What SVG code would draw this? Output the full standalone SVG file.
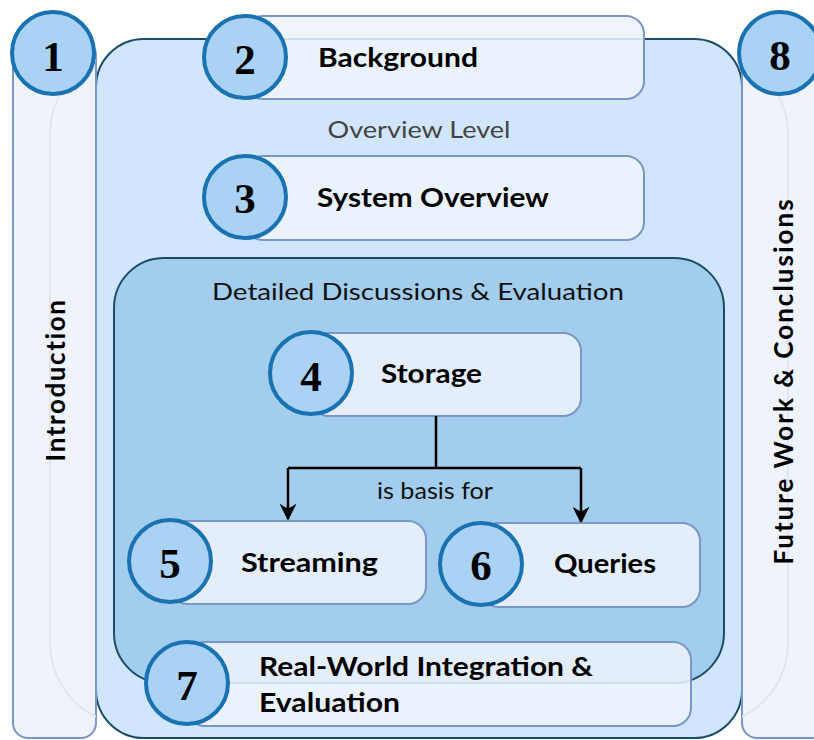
<svg xmlns="http://www.w3.org/2000/svg" width="814" height="740" viewBox="0 0 814 740">
<defs>
<style>
.frame{fill:#d1e6fc;stroke:#1b4d68;stroke-width:2}
.detail{fill:#a2cdec;stroke:#1b4d68;stroke-width:2}
.side{fill:#eef3fc;stroke:#7896c6;stroke-width:2}
.box{fill:#eef3fc;fill-opacity:0.86;stroke:#7896c6;stroke-width:2}
.circ{fill:#aad2f5;stroke:#1a72b0;stroke-width:4}
.num{font-family:"Liberation Serif","DejaVu Serif",serif;font-weight:bold;font-size:43px;fill:#000;text-anchor:middle}
.lbl{font-family:Lato,"Open Sans",sans-serif;font-weight:bold;font-size:26px;fill:#000}
.vlbl{font-family:Lato,"Open Sans",sans-serif;font-weight:bold;font-size:26px;fill:#000;text-anchor:middle;letter-spacing:1.6px}
.plain{font-family:Lato,"Open Sans",sans-serif;font-size:24px}
.conn{fill:none;stroke:#000;stroke-width:2.5}
.ghost{fill:none;stroke:#e0e7f0;stroke-width:2}
</style>
<marker id="arr" viewBox="0 0 20 20" refX="18" refY="10" markerWidth="17" markerHeight="17" markerUnits="userSpaceOnUse" orient="auto">
<path d="M0,0 L20,10 L0,20 L6,10 Z" fill="#000"/>
</marker>
<clipPath id="leftside">
<rect x="13" y="40" width="83" height="698" rx="15"/>
</clipPath>
<clipPath id="rightside">
<rect x="742" y="40" width="90" height="698" rx="15"/>
</clipPath>
</defs>

<g id="overview-frame">
<rect class="frame" x="96" y="39" width="646" height="699" rx="48"/>
<text class="plain" x="419" y="138" text-anchor="middle" fill="#444" textLength="183" lengthAdjust="spacingAndGlyphs">Overview Level</text>
</g>

<g id="node1">
<rect class="side" x="13" y="40" width="83" height="698" rx="15"/>
<rect class="ghost" x="50" y="52" width="738" height="673" rx="82" clip-path="url(#leftside)"/>
<text class="vlbl" transform="translate(65,380) rotate(-90)">Introduction</text>
</g>

<g id="node8">
<rect class="side" x="742" y="40" width="90" height="698" rx="15"/>
<rect class="ghost" x="50" y="52" width="738" height="673" rx="82" clip-path="url(#rightside)"/>
<text class="vlbl" transform="translate(793,381) rotate(-90)" style="letter-spacing:2px">Future Work &amp; Conclusions</text>
</g>

<g id="node1-badge">
<circle class="circ" cx="53" cy="53" r="41"/>
<text class="num" x="53" y="71">1</text>
</g>
<g id="node8-badge">
<circle class="circ" cx="780" cy="53" r="41"/>
<text class="num" x="780" y="70">8</text>
</g>

<g id="node2">
<rect class="box" x="245" y="16" width="399" height="83" rx="18"/>
<circle class="circ" cx="245" cy="57" r="41"/>
<text class="num" x="245" y="74">2</text>
<text class="lbl" x="318" y="67" textLength="160" lengthAdjust="spacingAndGlyphs">Background</text>
</g>

<g id="node3">
<rect class="box" x="245" y="156" width="399" height="84" rx="18"/>
<circle class="circ" cx="245" cy="197" r="41"/>
<text class="num" x="245" y="213">3</text>
<text class="lbl" x="317" y="207" textLength="232" lengthAdjust="spacingAndGlyphs">System Overview</text>
</g>

<g id="detail-frame">
<rect class="detail" x="114" y="258" width="610" height="425" rx="50"/>
<text class="plain" x="418" y="300" text-anchor="middle" fill="#111" textLength="412" lengthAdjust="spacingAndGlyphs">Detailed Discussions &amp; Evaluation</text>
</g>

<g id="node4">
<rect class="box" x="311" y="333" width="270" height="83" rx="18"/>
<circle class="circ" cx="311" cy="373" r="41"/>
<text class="num" x="311" y="391">4</text>
<text class="lbl" x="381" y="383" textLength="101" lengthAdjust="spacingAndGlyphs">Storage</text>
</g>

<g id="connectors">
<path class="conn" d="M436,416 V468"/>
<path class="conn" d="M288,468 H581"/>
<path class="conn" d="M288,468 V519" marker-end="url(#arr)"/>
<path class="conn" d="M581,468 V522" marker-end="url(#arr)"/>
<text class="plain" x="435" y="499" text-anchor="middle" fill="#111" font-size="21" textLength="116" lengthAdjust="spacingAndGlyphs">is basis for</text>
</g>

<g id="node5">
<rect class="box" x="170" y="521" width="256" height="83" rx="18"/>
<circle class="circ" cx="170" cy="561" r="41"/>
<text class="num" x="170" y="578">5</text>
<text class="lbl" x="241" y="572" textLength="137" lengthAdjust="spacingAndGlyphs">Streaming</text>
</g>

<g id="node6">
<rect class="box" x="481" y="523" width="219" height="84" rx="18"/>
<circle class="circ" cx="481" cy="564" r="41"/>
<text class="num" x="481" y="580">6</text>
<text class="lbl" x="554" y="573" textLength="102" lengthAdjust="spacingAndGlyphs">Queries</text>
</g>

<g id="node7">
<rect class="box" x="187" y="642" width="504" height="84" rx="18"/>
<circle class="circ" cx="187" cy="683" r="41"/>
<text class="num" x="187" y="700">7</text>
<text class="lbl" x="259" y="676" textLength="334" lengthAdjust="spacingAndGlyphs">Real-World Integration &amp;</text>
<text class="lbl" x="259" y="712" textLength="141" lengthAdjust="spacingAndGlyphs">Evaluation</text>
</g>
</svg>
